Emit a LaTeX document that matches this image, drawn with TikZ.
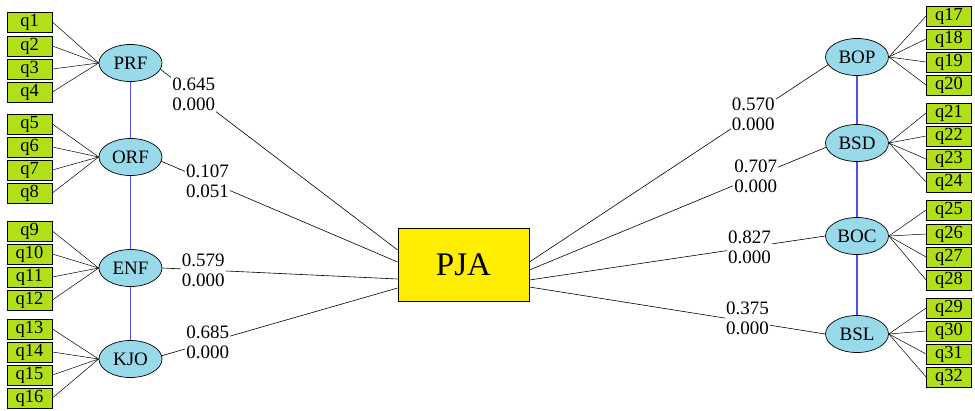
\documentclass[tikz,border=0pt]{standalone}
\usepackage{fontspec}
\setmainfont{Liberation Serif}
\usetikzlibrary{shapes.geometric}
\definecolor{qgreen}{RGB}{178,224,24}
\definecolor{lblue}{RGB}{152,218,234}
\definecolor{pjay}{RGB}{255,238,0}
\definecolor{corblue}{RGB}{80,80,240}
\begin{document}
\begin{tikzpicture}[x=1pt,y=-1pt,
  ind/.style={draw=black, fill=qgreen, minimum width=45pt, minimum height=20pt,
    inner sep=0pt, line width=0.8pt, font=\fontsize{18.5}{20}\selectfont},
  lat/.style={ellipse, draw=black, fill=lblue, minimum width=63pt, minimum height=37pt,
    inner sep=0pt, line width=0.7pt, font=\fontsize{19}{20}\selectfont},
  dep/.style={draw=black, fill=pjay, minimum width=131pt, minimum height=73pt,
    inner sep=0pt, line width=0.8pt, font=\fontsize{33}{36}\selectfont},
  load/.style={draw=black, line width=0.5pt},
  spath/.style={draw=black, line width=0.6pt},
  cor/.style={draw=corblue, line width=1.4pt},
  lbl/.style={fill=white, inner sep=1pt, align=left, font=\fontsize{19}{20}\selectfont}]
\useasboundingbox (0,0) rectangle (975,410);

% latent variables
\node[lat] (PRF) at (130.5,63) {PRF};
\node[lat] (ORF) at (130.5,157) {ORF};
\node[lat] (ENF) at (130.5,268) {ENF};
\node[lat] (KJO) at (130.5,359) {KJO};
\node[lat] (BOP) at (857,57) {BOP};
\node[lat] (BSD) at (857,143) {BSD};
\node[lat] (BOC) at (857,236) {BOC};
\node[lat] (BSL) at (857,334) {BSL};
\node[dep] (PJA) at (463.5,264.5) {PJA};

% correlations
\draw[cor] (PRF.south) -- (ORF.north);
\draw[cor] (ORF.south) -- (ENF.north);
\draw[cor] (ENF.south) -- (KJO.north);
\draw[cor] (BOP.south) -- (BSD.north);
\draw[cor] (BSD.south) -- (BOC.north);
\draw[cor] (BOC.south) -- (BSL.north);

% left indicators
\foreach \n/\y/\l in {1/22/PRF,2/46/PRF,3/69/PRF,4/92/PRF,
                      5/124/ORF,6/147/ORF,7/170/ORF,8/193/ORF,
                      9/231/ENF,10/254/ENF,11/277/ENF,12/300/ENF,
                      13/329/KJO,14/352/KJO,15/375/KJO,16/398/KJO}{
  \node[ind] (q\n) at (29.5,\y) {q\n};
  \draw[load] (q\n.east) -- (\l.west);
}
% right indicators
\foreach \n/\y/\l in {17/16/BOP,18/39/BOP,19/62/BOP,20/85/BOP,
                      21/113/BSD,22/136/BSD,23/159/BSD,24/182/BSD,
                      25/210/BOC,26/234/BOC,27/257/BOC,28/280/BOC,
                      29/308/BSL,30/331/BSL,31/354/BSL,32/377/BSL}{
  \node[ind] (q\n) at (949,\y) {q\n};
  \draw[load] (\l.east) -- (q\n.west);
}

% structural paths
\draw[spath] (PRF.-12) -- node[lbl,pos=0.14] {0.645\\0.000} ([yshift=14.5pt]PJA.west);
\draw[spath] (ORF.-8) -- node[lbl,pos=0.195] {0.107\\0.051} ([yshift=2.5pt]PJA.west);
\draw[spath] (ENF.east) -- node[lbl,pos=0.174] {0.579\\0.000} ([yshift=-14.5pt]PJA.west);
\draw[spath] (KJO.6) -- node[lbl,pos=0.195] {0.685\\0.000} ([yshift=-23.5pt]PJA.west);
\draw[spath] (BOP.195) -- node[lbl,pos=0.25] {0.570\\0.000} ([yshift=2.5pt]PJA.east);
\draw[spath] (BSD.188) -- node[lbl,pos=0.237] {0.707\\0.000} ([yshift=-5.5pt]PJA.east);
\draw[spath] (BOC.west) -- node[lbl,pos=0.256] {0.827\\0.000} ([yshift=-15.5pt]PJA.east);
\draw[spath] (BSL.west) -- node[lbl,pos=0.263,yshift=3pt] {0.375\\0.000} ([yshift=-22.5pt]PJA.east);
\end{tikzpicture}
\end{document}
